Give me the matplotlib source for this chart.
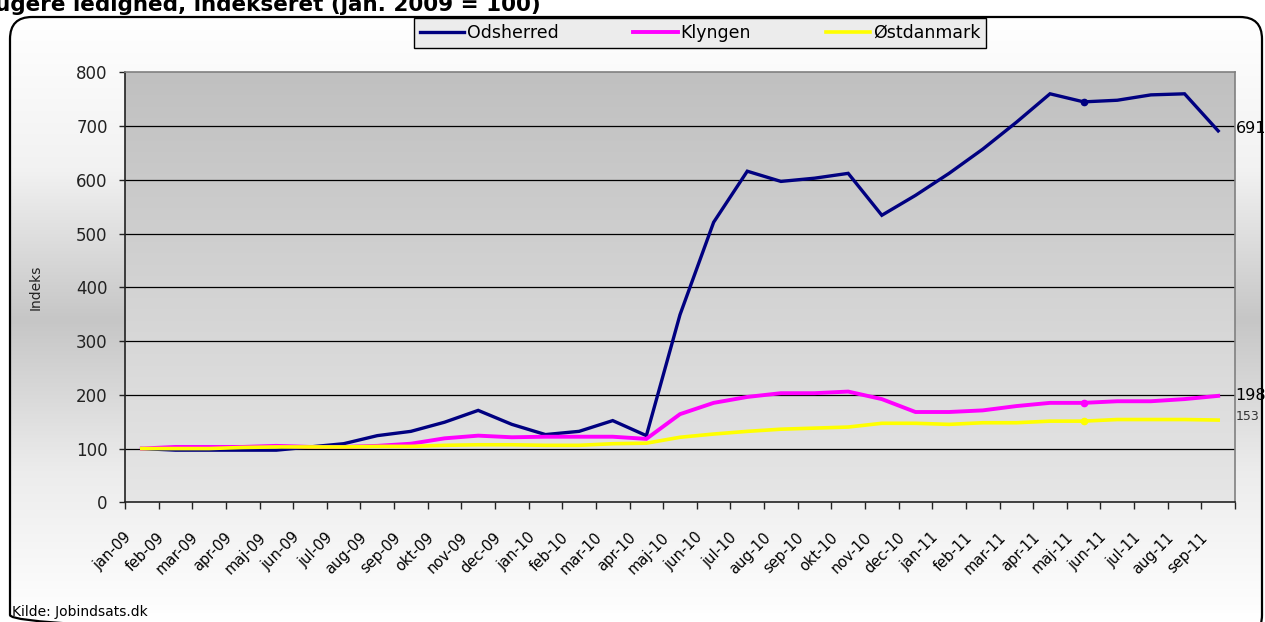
import numpy as np
import matplotlib
matplotlib.use("Agg")
import matplotlib.pyplot as plt
from matplotlib.patches import FancyBboxPatch
from matplotlib.colors import LinearSegmentedColormap
import matplotlib.transforms as mtransforms

plt.rcParams['font.family'] = ['DejaVu Sans']

months = ["jan-09", "feb-09", "mar-09", "apr-09", "maj-09", "jun-09", "jul-09", "aug-09",
          "sep-09", "okt-09", "nov-09", "dec-09", "jan-10", "feb-10", "mar-10", "apr-10",
          "maj-10", "jun-10", "jul-10", "aug-10", "sep-10", "okt-10", "nov-10", "dec-10",
          "jan-11", "feb-11", "mar-11", "apr-11", "maj-11", "jun-11", "jul-11", "aug-11",
          "sep-11"]

odsherred = [100, 97, 97, 97, 97, 103, 109, 124, 132, 149, 171, 145, 126, 132, 152, 124,
             349, 521, 616, 597, 603, 612, 534, 571, 612, 657, 707, 760, 745, 748, 758, 760,
             691]
klyngen = [100, 103, 103, 103, 105, 103, 103, 105, 109, 119, 124, 121, 122, 122, 122, 118,
           164, 185, 196, 203, 203, 206, 192, 168, 168, 171, 179, 185, 185, 188, 188, 192,
           198]
ostdanmark = [100, 100, 100, 102, 103, 103, 103, 104, 104, 106, 107, 107, 106, 106, 109, 110,
              121, 127, 132, 136, 138, 140, 147, 147, 145, 148, 148, 151, 151, 154, 154, 154,
              153]

series_names = ["Odsherred", "Klyngen", "Østdanmark"]
series_colors = ["#000080", "#ff00ff", "#ffff00"]
series_widths = [2.4, 2.8, 2.6]
series_data = [odsherred, klyngen, ostdanmark]
marker_month = "maj-11"

W, H = 1265, 622
fig = plt.figure(figsize=(W / 100, H / 100), dpi=100)
fig.patch.set_facecolor("white")

# outer rounded frame with vertical gradient
bg_ax = fig.add_axes([0, 0, 1, 1], zorder=-10)
bg_ax.set_xlim(0, W)
bg_ax.set_ylim(H, 0)
bg_ax.axis("off")
frame = FancyBboxPatch((10, 17), 1252, 620, boxstyle="round,pad=0,rounding_size=22",
                       facecolor="none", edgecolor="black", linewidth=1.6,
                       transform=bg_ax.transData)
bg_cmap = LinearSegmentedColormap.from_list("bg", ["#ffffff", "#f2f2f2", "#c6c6c6", "#ececec", "#ffffff"])
grad = np.linspace(0, 1, 256).reshape(-1, 1)
im = bg_ax.imshow(grad, cmap=bg_cmap, extent=[10, 1262, 622, 17], aspect="auto")
bg_ax.add_patch(frame)
im.set_clip_path(frame)

# title (cut at the left edge, as in the source)
fig.text(-0.004, 1 - 11 / H, "ugere ledighed, indekseret (jan. 2009 = 100)", fontsize=15.5,
         fontweight="bold", ha="left", va="baseline")

ax = fig.add_axes([125 / W, 1 - 502.3 / H, 1110 / W, 430 / H])
x = np.arange(len(months))
ax.set_xlim(-0.5, len(months) - 0.5)
ax.set_ylim(0, 800)

# plot-area gradient
pa_cmap = LinearSegmentedColormap.from_list("pa", ["#c0c0c0", "#e6e6e6"])
ax.imshow(grad, cmap=pa_cmap, extent=[-0.5, len(months) - 0.5, 0, 800], aspect="auto", zorder=0)

for yv in range(100, 800, 100):
    ax.axhline(yv, color="black", linewidth=0.9, zorder=1)

mi = months.index(marker_month)
for name, col, lw, data in zip(series_names, series_colors, series_widths, series_data):
    ax.plot(x, data, color=col, linewidth=lw, label=name, zorder=3, solid_joinstyle="miter")
    ax.plot(x[mi], data[mi], "o", color=col, markersize=4.5, zorder=4)

# end labels
ax.text(len(months) - 0.48, odsherred[-1] + 4, str(odsherred[-1]), fontsize=11.5, va="center", ha="left")
ax.text(len(months) - 0.48, klyngen[-1], str(klyngen[-1]), fontsize=11.5, va="center", ha="left")
ax.text(len(months) - 0.48, ostdanmark[-1] + 6, str(ostdanmark[-1]), fontsize=9, va="center",
        ha="left", color="#333333")

ax.set_yticks(range(0, 801, 100))
ax.tick_params(axis="y", labelsize=12, length=4.5, width=1, pad=8, colors="#222222")
ax.set_xticks(np.arange(-0.5, len(months), 1), minor=True)
ax.set_xticks(x)
ax.set_xticklabels(months, rotation=45, ha="right", va="center", rotation_mode="anchor", fontsize=10.5)
ax.tick_params(axis="x", which="major", length=0, pad=23.5)
ax.tick_params(axis="x", which="minor", length=5, width=1, color="#222222")
off = mtransforms.ScaledTranslation(-9.4 / 72, 0, fig.dpi_scale_trans)
for lab in ax.get_xticklabels():
    lab.set_transform(lab.get_transform() + off)

for side in ["top", "right"]:
    ax.spines[side].set_color("#808080")
    ax.spines[side].set_linewidth(1.2)
for side in ["left", "bottom"]:
    ax.spines[side].set_color("#222222")
    ax.spines[side].set_linewidth(1.2)

ax.set_ylabel("Indeks", fontsize=10, color="#222222", labelpad=24)

leg = fig.legend(loc="upper center", bbox_to_anchor=(700 / W, 1 - 18 / H), ncol=3, fontsize=12.5,
                 frameon=True, fancybox=False, handlelength=2.55, handletextpad=0.17,
                 columnspacing=4.3, borderpad=0.35, borderaxespad=0)
leg.get_frame().set_edgecolor("black")
leg.get_frame().set_facecolor("#ececec")
leg.get_frame().set_linewidth(1)
leg.get_frame().set_alpha(1)

fig.text(12 / W, 1 - 612 / H, "Kilde: Jobindsats.dk", fontsize=10, ha="left", va="center")

fig.savefig("out.png", dpi=100)
